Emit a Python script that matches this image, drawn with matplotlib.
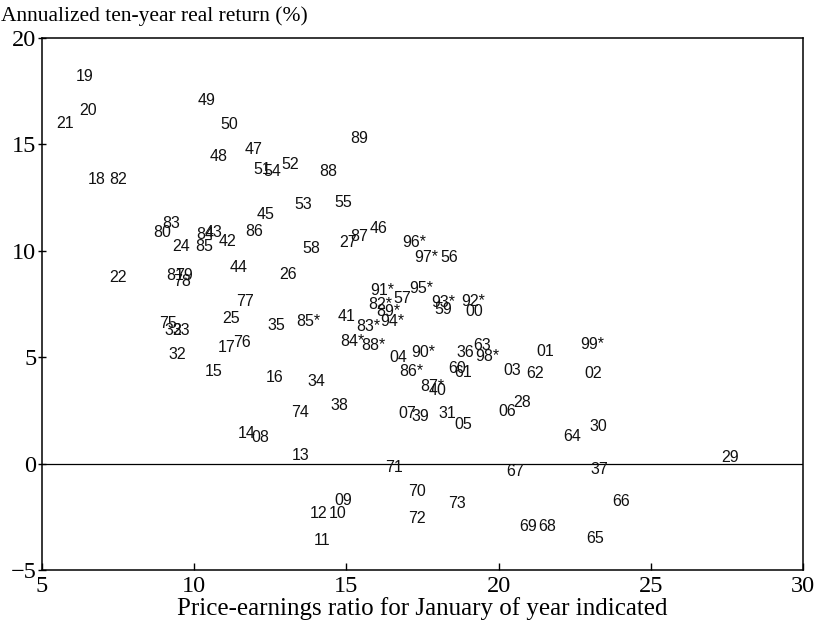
import matplotlib
matplotlib.use("Agg")
import matplotlib.pyplot as plt

labels = ["19", "20", "21", "18", "82", "49", "50", "48", "47", "51", "54", "52", "88", "89",
          "53", "55", "45", "86", "83", "80", "84", "43", "42", "24", "85", "58", "27", "87", "46",
          "44", "26", "81", "79", "78", "22", "77", "25", "75", "33", "23", "32", "17", "76", "15",
          "35", "85*", "16", "34", "74", "38", "14", "08", "41", "91*", "95*", "57", "82*", "89*",
          "83*", "94*", "84*", "88*", "04", "90*", "86*", "87*", "40", "93*", "59", "92*", "00",
          "36", "63", "98*", "60", "61", "01", "99*", "03", "62", "02", "06", "28", "07", "39",
          "31", "05", "30", "64", "29", "13", "71", "67", "37", "70", "09", "73", "66", "12", "10",
          "72", "69", "68", "65", "11", "56", "97*", "96*"]

pe_ratio = [6.41, 6.51, 5.76, 6.81, 7.50, 10.39, 11.14, 10.81, 11.96, 12.23, 12.56, 13.15, 14.40, 15.41,
            13.57, 14.89, 12.36, 11.96, 9.24, 8.94, 10.36, 10.65, 11.11, 9.57, 10.32, 13.84, 15.05, 15.41, 16.04,
            11.47, 13.08, 9.38, 9.68, 9.60, 7.50, 11.67, 11.21, 9.14, 9.30, 9.57, 9.43, 11.08, 11.57, 10.65,
            12.69, 13.74, 12.65, 14.03, 13.48, 14.76, 11.73, 12.16, 15.02, 16.17, 17.45, 16.83, 16.10, 16.37,
            15.71, 16.50, 15.19, 15.87, 16.70, 17.52, 17.12, 17.81, 18.01, 18.17, 18.17, 19.16, 19.19,
            18.90, 19.45, 19.62, 18.63, 18.83, 21.52, 23.07, 20.44, 21.20, 23.10, 20.28, 20.77, 16.99, 17.42,
            18.30, 18.83, 23.27, 22.41, 27.60, 13.51, 16.56, 20.54, 23.30, 17.32, 14.89, 18.63, 24.02, 14.07, 14.72,
            17.32, 20.97, 21.59, 23.17, 14.20, 18.37, 17.61, 17.22]

real_return = [18.17, 16.57, 16.00, 13.33, 13.33, 17.04, 15.92, 14.41, 14.74, 13.80, 13.71, 14.04, 13.71, 15.30,
               12.16, 12.25, 11.69, 10.89, 11.27, 10.85, 10.75, 10.85, 10.42, 10.19, 10.19, 10.09, 10.38, 10.66, 11.03,
               9.20, 8.87, 8.83, 8.83, 8.54, 8.73, 7.60, 6.80, 6.57, 6.24, 6.24, 5.12, 5.45, 5.68, 4.32,
               6.48, 6.67, 4.04, 3.85, 2.39, 2.72, 1.41, 1.22, 6.90, 8.12, 8.22, 7.75, 7.46, 7.14,
               6.43, 6.67, 5.73, 5.54, 4.98, 5.21, 4.32, 3.62, 3.43, 7.56, 7.23, 7.60, 7.14,
               5.21, 5.54, 5.02, 4.46, 4.27, 5.26, 5.59, 4.37, 4.23, 4.23, 2.44, 2.86, 2.35, 2.21,
               2.35, 1.83, 1.74, 1.27, 0.28, 0.38, -0.19, -0.38, -0.28, -1.31, -1.74, -1.88, -1.78, -2.35, -2.35,
               -2.58, -2.96, -2.96, -3.52, -3.62, 9.67, 9.67, 10.38]

x_ticks = [5, 10, 15, 20, 25, 30]
y_ticks = [-5, 0, 5, 10, 15, 20]

serif = ["Liberation Serif", "DejaVu Serif"]

fig = plt.figure(figsize=(8.22, 6.31), dpi=100)
ax = fig.add_axes([0.0511, 0.0967, 0.9258, 0.8431])
ax.set_xlim(5, 30)
ax.set_ylim(-5, 20)

ax.axhline(0, color="black", linewidth=0.9)

for lab, x, y in zip(labels, pe_ratio, real_return):
    ax.text(x, y, lab, ha="center", va="center", fontsize=11.5,
            family=["Liberation Sans", "DejaVu Sans"], color="#111111")

ax.set_xticks(x_ticks)
ax.set_yticks(y_ticks)
ax.set_xticklabels(["\u22125" if t < 0 else str(t) for t in x_ticks],
                   family=serif, fontsize=17.5)
ax.set_yticklabels(["\u22125" if t < 0 else str(t) for t in y_ticks],
                   family=serif, fontsize=17.5)
ax.tick_params(axis="x", direction="in", length=5, width=1, pad=4)
ax.tick_params(axis="y", direction="inout", length=6, width=1, pad=1)
for s in ax.spines.values():
    s.set_linewidth(1.1)

ax.set_xlabel("Price-earnings ratio for January of year indicated",
              family=serif, fontsize=18, labelpad=0)
fig.text(0.001, 0.99, "Annualized ten-year real return (%)", ha="left", va="top",
         family=serif, fontsize=15.5)

fig.savefig("out.png", dpi=100)
